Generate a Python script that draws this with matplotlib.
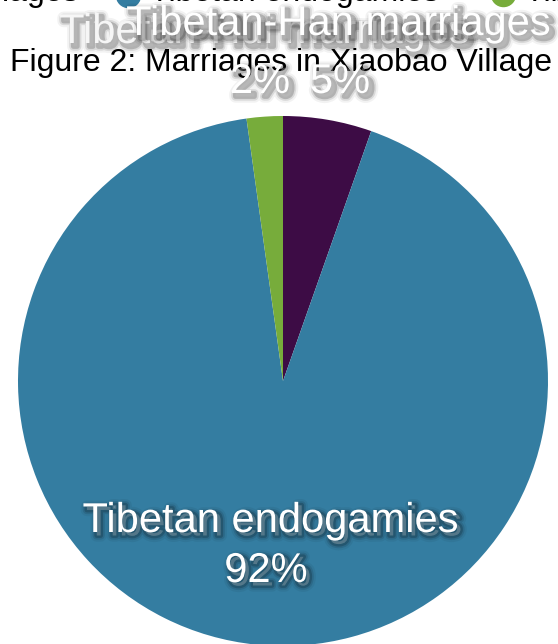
import matplotlib.pyplot as plt
import matplotlib.patheffects as pe

# data
labels = ['Tibetan-Han marriages', 'Tibetan endogamies', 'Tibetan-Hui marriages']
values = [5.4, 92.4, 2.2]
colors = ['#3d0c45', '#347da1', '#77ac3b']
title = 'Figure 2: Marriages in Xiaobao Village'

W, H = 558, 644

def y(py):
    # pixel row -> data y
    return H - py

fig = plt.figure(figsize=(W / 100, H / 100), dpi=100)
ax = fig.add_axes([0, 0, 1, 1])

ax.pie(values, colors=colors, startangle=90, counterclock=False,
       center=(283, y(381)), radius=265, wedgeprops={'linewidth': 0})

# pie() resets the limits, so set them afterwards
ax.set_xlim(0, W)
ax.set_ylim(0, H)
ax.set_aspect('equal')
ax.axis('off')

# soft shadow for the white labels
shadow = [pe.Stroke(linewidth=w, foreground='black', alpha=a, offset=(2.5, -2.5))
          for w, a in [(9, 0.05), (6, 0.1), (3.5, 0.18)]] + [pe.Normal()]

font = 'Liberation Sans'
big = 30
total = sum(values)
pct = [f'{v / total * 100:.0f}%' for v in values]

# legend (mostly cut off at top)
ax.text(78, y(1), labels[0], ha='right', va='baseline', fontsize=23, family=font, zorder=2)
ax.scatter([128], [y(-5)], s=300, color=colors[1], zorder=2, clip_on=False)
ax.text(150, y(1), labels[1], ha='left', va='baseline', fontsize=23, family=font, zorder=2)
ax.scatter([503], [y(-6)], s=300, color=colors[2], zorder=2, clip_on=False)
ax.text(525, y(1), labels[2], ha='left', va='baseline', fontsize=23, family=font, zorder=2)

# back label (Hui)
ax.text(264, y(43), labels[2], ha='center', va='baseline', fontsize=big, family=font,
        color='#f6f6f6', path_effects=shadow, zorder=3)

ax.text(281, y(71), title, ha='center', va='baseline', fontsize=23, family=font,
        color='black', zorder=4)

# front label (Han)
ax.text(338, y(35), labels[0], ha='center', va='baseline', fontsize=big, family=font,
        color='white', path_effects=shadow, zorder=5)

ax.text(260, y(93), pct[2], ha='center', va='baseline', fontsize=big, family=font,
        color='white', path_effects=shadow, zorder=6)
ax.text(340, y(93), pct[0], ha='center', va='baseline', fontsize=big, family=font,
        color='white', path_effects=shadow, zorder=6)

# endogamies label
ax.text(270, y(532), labels[1], ha='center', va='baseline', fontsize=big, family=font,
        color='white', path_effects=shadow, zorder=6)
ax.text(266, y(582), pct[1], ha='center', va='baseline', fontsize=big, family=font,
        color='white', path_effects=shadow, zorder=6)

fig.savefig('out.png', dpi=100)
